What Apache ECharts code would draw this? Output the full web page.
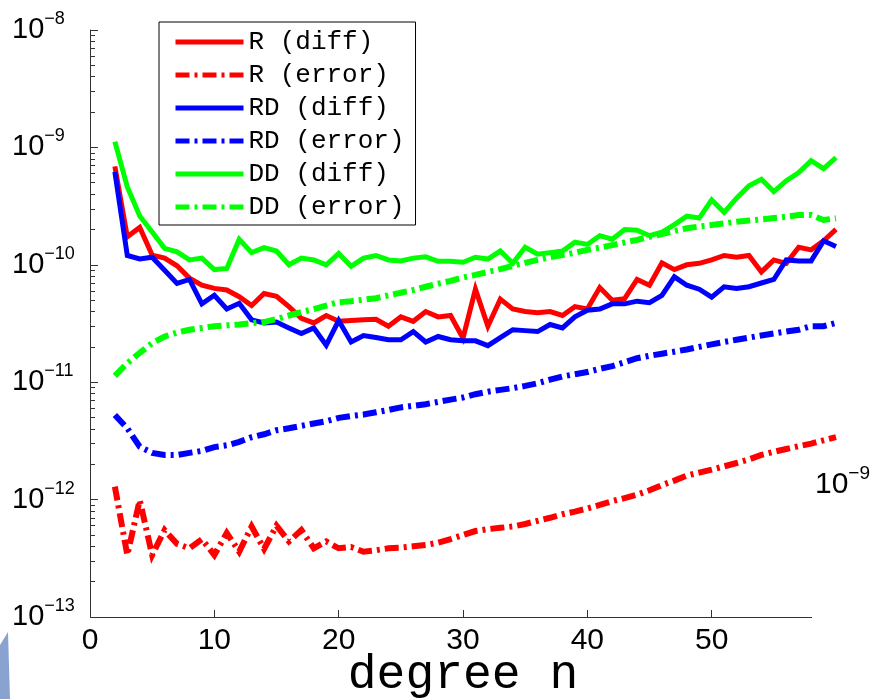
<!DOCTYPE html>
<html>
<head>
<meta charset="utf-8">
<script src="https://cdn.jsdelivr.net/npm/echarts@6/dist/echarts.min.js"></script>
<style>
html, body { margin: 0; padding: 0; background: #fff; }
#chart { width: 874px; height: 699px; }
</style>
</head>
<body>
<div id="chart"></div>
<script>
// degree n
const degrees = [2, 3, 4, 5, 6, 7, 8, 9, 10, 11, 12, 13, 14, 15, 16, 17, 18, 19, 20, 21,
    22, 23, 24, 25, 26, 27, 28, 29, 30, 31, 32, 33, 34, 35, 36, 37, 38, 39, 40, 41,
    42, 43, 44, 45, 46, 47, 48, 49, 50, 51, 52, 53, 54, 55, 56, 57, 58, 59, 60];

// R (diff)
const rDiff = [6.9e-10, 1.73e-10, 2.08e-10, 1.21e-10, 1.14e-10, 9.8e-11, 7.7e-11, 6.7e-11, 6.3e-11, 6.1e-11,
    5.35e-11, 4.5e-11, 5.7e-11, 5.4e-11, 4.4e-11, 3.5e-11, 3.2e-11, 3.7e-11, 3.3e-11, 3.35e-11,
    3.4e-11, 3.43e-11, 3.0e-11, 3.6e-11, 3.3e-11, 4.0e-11, 3.6e-11, 3.7e-11, 2.37e-11, 6.2e-11,
    3.0e-11, 5.1e-11, 4.2e-11, 4.0e-11, 3.9e-11, 4.0e-11, 3.7e-11, 4.4e-11, 4.2e-11, 6.4e-11,
    5.0e-11, 5.15e-11, 7.5e-11, 6.7e-11, 1.04e-10, 9.1e-11, 1.0e-10, 1.03e-10, 1.1e-10, 1.2e-10,
    1.16e-10, 1.2e-10, 8.7e-11, 1.1e-10, 1.03e-10, 1.41e-10, 1.34e-10, 1.6e-10, 2.0e-10];

// R (error)
const rError = [1.29e-12, 3.37e-13, 9.9e-13, 3.37e-13, 5.5e-13, 4.2e-13, 3.85e-13, 4.6e-13, 3.37e-13, 5.2e-13,
    3.6e-13, 5.9e-13, 3.8e-13, 6.0e-13, 4.4e-13, 5.5e-13, 3.85e-13, 4.4e-13, 3.85e-13, 3.95e-13,
    3.6e-13, 3.7e-13, 3.85e-13, 3.9e-13, 4.0e-13, 4.1e-13, 4.3e-13, 4.6e-13, 5.0e-13, 5.4e-13,
    5.6e-13, 5.75e-13, 5.9e-13, 6.2e-13, 6.6e-13, 7.0e-13, 7.5e-13, 7.9e-13, 8.4e-13, 9.0e-13,
    9.7e-13, 1.03e-12, 1.1e-12, 1.2e-12, 1.33e-12, 1.45e-12, 1.6e-12, 1.7e-12, 1.8e-12, 1.92e-12,
    2.05e-12, 2.2e-12, 2.4e-12, 2.55e-12, 2.7e-12, 2.85e-12, 3.0e-12, 3.2e-12, 3.4e-12];

// RD (diff)
const rdDiff = [6.2e-10, 1.2e-10, 1.12e-10, 1.16e-10, 9.0e-11, 6.95e-11, 7.5e-11, 4.65e-11, 5.5e-11, 4.2e-11,
    4.7e-11, 3.4e-11, 3.2e-11, 3.25e-11, 2.9e-11, 2.6e-11, 2.9e-11, 2.07e-11, 3.35e-11, 2.2e-11,
    2.5e-11, 2.4e-11, 2.3e-11, 2.3e-11, 2.7e-11, 2.2e-11, 2.45e-11, 2.3e-11, 2.25e-11, 2.25e-11,
    2.05e-11, 2.4e-11, 2.8e-11, 2.75e-11, 2.7e-11, 3.1e-11, 2.9e-11, 3.6e-11, 4.1e-11, 4.2e-11,
    4.65e-11, 4.65e-11, 4.9e-11, 4.75e-11, 5.5e-11, 7.9e-11, 6.7e-11, 6.2e-11, 5.3e-11, 6.5e-11,
    6.3e-11, 6.5e-11, 7.0e-11, 7.5e-11, 1.1e-10, 1.08e-10, 1.08e-10, 1.6e-10, 1.43e-10];

// RD (error)
const rdError = [5.26e-12, 4.05e-12, 2.82e-12, 2.5e-12, 2.4e-12, 2.4e-12, 2.5e-12, 2.6e-12, 2.8e-12, 2.9e-12,
    3.1e-12, 3.4e-12, 3.6e-12, 3.9e-12, 4.05e-12, 4.25e-12, 4.45e-12, 4.65e-12, 4.97e-12, 5.15e-12,
    5.3e-12, 5.55e-12, 5.8e-12, 6.1e-12, 6.3e-12, 6.5e-12, 6.8e-12, 7.1e-12, 7.4e-12, 7.9e-12,
    8.3e-12, 8.6e-12, 8.9e-12, 9.3e-12, 9.8e-12, 1.05e-11, 1.12e-11, 1.17e-11, 1.22e-11, 1.3e-11,
    1.37e-11, 1.48e-11, 1.6e-11, 1.68e-11, 1.75e-11, 1.82e-11, 1.9e-11, 2.0e-11, 2.1e-11, 2.2e-11,
    2.3e-11, 2.4e-11, 2.5e-11, 2.6e-11, 2.7e-11, 2.8e-11, 3.0e-11, 3.0e-11, 3.2e-11];

// DD (diff)
const ddDiff = [1.12e-9, 4.6e-10, 2.6e-10, 1.9e-10, 1.38e-10, 1.29e-10, 1.1e-10, 1.14e-10, 9.1e-11, 9.3e-11,
    1.65e-10, 1.27e-10, 1.4e-10, 1.31e-10, 1.0e-10, 1.14e-10, 1.1e-10, 1.0e-10, 1.25e-10, 9.7e-11,
    1.14e-10, 1.2e-10, 1.1e-10, 1.08e-10, 1.14e-10, 1.17e-10, 1.07e-10, 1.07e-10, 1.05e-10, 1.16e-10,
    1.12e-10, 1.31e-10, 1.03e-10, 1.41e-10, 1.23e-10, 1.27e-10, 1.31e-10, 1.56e-10, 1.49e-10, 1.77e-10,
    1.65e-10, 2.0e-10, 1.97e-10, 1.77e-10, 1.9e-10, 2.2e-10, 2.6e-10, 2.5e-10, 3.57e-10, 2.8e-10,
    3.7e-10, 4.7e-10, 5.35e-10, 4.2e-10, 5.2e-10, 6.1e-10, 7.7e-10, 6.6e-10, 8.2e-10];

// DD (error)
const ddError = [1.13e-11, 1.45e-11, 1.78e-11, 2.15e-11, 2.45e-11, 2.65e-11, 2.8e-11, 2.9e-11, 3.0e-11, 3.05e-11,
    3.1e-11, 3.18e-11, 3.25e-11, 3.45e-11, 3.7e-11, 3.95e-11, 4.2e-11, 4.5e-11, 4.8e-11, 4.9e-11,
    5.05e-11, 5.19e-11, 5.5e-11, 5.78e-11, 6.1e-11, 6.5e-11, 6.9e-11, 7.3e-11, 7.8e-11, 8.2e-11,
    8.7e-11, 9.2e-11, 9.8e-11, 1.04e-10, 1.1e-10, 1.16e-10, 1.21e-10, 1.27e-10, 1.34e-10, 1.4e-10,
    1.47e-10, 1.55e-10, 1.63e-10, 1.73e-10, 1.83e-10, 1.94e-10, 2.05e-10, 2.12e-10, 2.18e-10, 2.25e-10,
    2.33e-10, 2.38e-10, 2.44e-10, 2.5e-10, 2.57e-10, 2.65e-10, 2.65e-10, 2.41e-10, 2.49e-10];

// axis ticks
const xTicks = [0, 10, 20, 30, 40, 50];
const yTicks = [1e-13, 1e-12, 1e-11, 1e-10, 1e-9, 1e-8];
const yMantissas = [2, 3, 4, 5, 6, 7, 8, 9];

const yMinorTicks = [];
yTicks.slice(0, -1).forEach(d => yMantissas.forEach(m => yMinorTicks.push(m * d)));

const dashDot = [14, 5, 3, 5];

function pairs(values) {
    return degrees.map((n, i) => [n, values[i]]);
}

function makeSeries(name, values, color, dashed) {
    return {
        name: name,
        type: 'line',
        data: pairs(values),
        symbol: 'none',
        silent: true,
        lineStyle: {
            color: color,
            width: dashed ? 6 : 5,
            type: dashed ? dashDot : 'solid',
            cap: 'butt',
            join: 'miter'
        },
        itemStyle: { color: color }
    };
}

const supRich = {
    a: { fontFamily: 'Liberation Sans', fontSize: 29, lineHeight: 40, color: '#000' },
    b: { fontFamily: 'Liberation Sans', fontSize: 18, lineHeight: 18, verticalAlign: 'top', color: '#000' }
};

const chart = echarts.init(document.getElementById('chart'), null, { renderer: 'canvas' });
chart.setOption({
    animation: false,
    backgroundColor: '#fff',
    // x runs to 60; the drawn axis line stops near n = 58 as in the figure
    grid: { left: 90, top: 30, right: 38, bottom: 82, containLabel: false, outerBoundsMode: 'none' },
    legend: {
        orient: 'vertical',
        left: 159,
        top: 22,
        padding: [7, 11, 5, 14],
        itemWidth: 68,
        itemHeight: 19,
        itemGap: 7,
        borderColor: '#000',
        borderWidth: 1,
        backgroundColor: '#fff',
        selectedMode: false,
        itemStyle: { opacity: 0 },
        lineStyle: { width: 5 },
        textStyle: {
            fontFamily: 'Liberation Mono',
            fontSize: 26,
            color: '#000'
        }
    },
    xAxis: {
        type: 'value',
        min: 0,
        max: 60,
        name: 'degree n',
        nameLocation: 'middle',
        nameGap: 34,
        nameMoveOverlap: false,
        nameTextStyle: {
            fontFamily: 'Liberation Mono',
            fontSize: 48,
            color: '#000'
        },
        axisLine: { show: false },
        axisTick: { show: true, inside: true, length: 7, customValues: xTicks, lineStyle: { color: '#333' } },
        axisLabel: {
            customValues: xTicks,
            margin: 9,
            fontFamily: 'Liberation Sans',
            fontSize: 30,
            color: '#000'
        },
        splitLine: { show: false }
    },
    yAxis: [
        {
            type: 'log',
            logBase: 10,
            min: 1e-13,
            max: 1e-8,
            axisLine: { show: true, onZero: false, lineStyle: { color: '#333', width: 1 } },
            axisTick: { show: true, inside: true, length: 8, customValues: yTicks, lineStyle: { color: '#333' } },
            axisLabel: {
                customValues: yTicks,
                align: 'left',
                margin: 78,
                formatter: function (v) {
                    const e = Math.round(Math.log10(v));
                    return '{a|10}{b|\u2212' + Math.abs(e) + '}';
                },
                rich: supRich
            },
            splitLine: { show: false }
        },
        {
            type: 'log',
            logBase: 10,
            min: 1e-13,
            max: 1e-8,
            position: 'left',
            offset: 0,
            axisLine: { show: false },
            axisTick: { show: true, inside: true, length: 5, customValues: yMinorTicks, lineStyle: { color: '#333' } },
            axisLabel: { show: false },
            splitLine: { show: false }
        }
    ],
    graphic: [
        {
            type: 'line',
            shape: { x1: 90, y1: 617.5, x2: 812, y2: 617.5 },
            style: { stroke: '#333', lineWidth: 1 }
        },
        {
            type: 'text',
            left: 815,
            top: 464,
            style: {
                text: '{a|10}{b|\u22129}',
                rich: {
                    a: { fontFamily: 'Liberation Sans', fontSize: 30, lineHeight: 42, color: '#000' },
                    b: { fontFamily: 'Liberation Sans', fontSize: 19, lineHeight: 19, verticalAlign: 'top', color: '#000' }
                }
            }
        },
        {
            type: 'polygon',
            shape: { points: [[0, 645], [8, 632], [10, 699], [0, 699]] },
            style: { fill: '#8aa2d0' }
        }
    ],
    series: [
        makeSeries('R (diff)', rDiff, '#ff0000', false),
        makeSeries('R (error)', rError, '#ff0000', true),
        makeSeries('RD (diff)', rdDiff, '#0000ff', false),
        makeSeries('RD (error)', rdError, '#0000ff', true),
        makeSeries('DD (diff)', ddDiff, '#00ff00', false),
        makeSeries('DD (error)', ddError, '#00ff00', true)
    ]
});
</script>
</body>
</html>
